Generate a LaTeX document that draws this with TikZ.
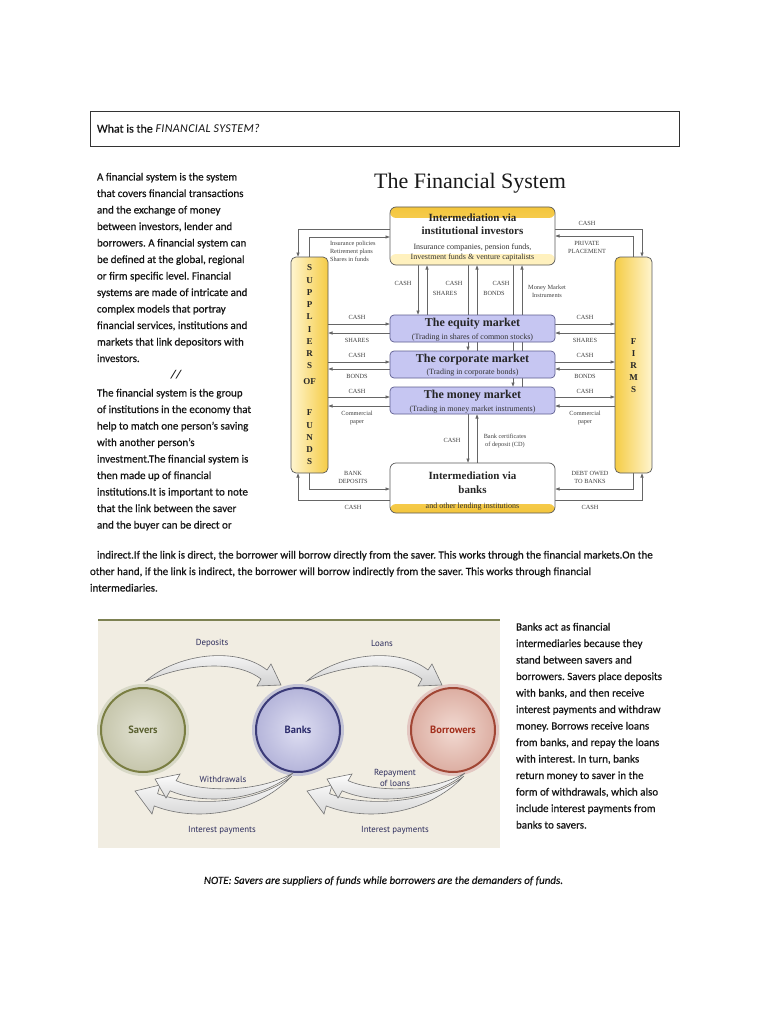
\documentclass[tikz,border=0pt]{standalone}
\usepackage{fontspec}
\setmainfont{Carlito}
\newfontfamily\bodyfont[FakeBold=0.5]{Carlito}
\newfontfamily\serifd{Liberation Serif}
\newfontfamily\sansd{PT Sans}
\newfontfamily\handfont[LetterSpace=3]{Carlito}
\usetikzlibrary{arrows.meta}
\pgfdeclarelayer{back}
\pgfdeclarelayer{lines}
\pgfsetlayers{back,lines,main}
\frenchspacing
\definecolor{ink}{HTML}{141414}
\definecolor{bandY}{HTML}{F4C63C}
\definecolor{bandL}{HTML}{FFF1BE}
\definecolor{mktfill}{HTML}{C6C6F2}
\definecolor{mktborder}{HTML}{5E5E90}
\definecolor{pilDark}{HTML}{F5CC45}
\definecolor{pilLight}{HTML}{FFF5CF}
\definecolor{bgBeige}{HTML}{F1EDE2}
\definecolor{ruleOl}{HTML}{7D8152}
\definecolor{savIn}{HTML}{E2E2D2}
\definecolor{savOut}{HTML}{C6C6AC}
\definecolor{savLine}{HTML}{7A7E42}
\definecolor{savText}{HTML}{5A6030}
\definecolor{bankIn}{HTML}{DEDEF2}
\definecolor{bankOut}{HTML}{B5B5DA}
\definecolor{bankLine}{HTML}{3B3B78}
\definecolor{bankText}{HTML}{2C2C6C}
\definecolor{borIn}{HTML}{F2DAD2}
\definecolor{borOut}{HTML}{DCAEA2}
\definecolor{borLine}{HTML}{A14634}
\definecolor{borText}{HTML}{A3301E}
\definecolor{lblBlue}{HTML}{2B2B5B}
\begin{document}
\begin{tikzpicture}[x=1pt,y=-1pt,
  every node/.style={inner sep=0pt,outer sep=0pt},
  body/.style={anchor=base west,font=\bodyfont\fontsize{11}{12}\selectfont,text=ink},
  lbl/.style={font=\serifd\fontsize{6.3}{8}\selectfont,text=black!75,align=center},
  conn/.style={draw=black!60,line width=0.6pt},
  arr/.style={conn,-{Latex[length=4.5pt,width=3.5pt]}},
  mkt/.style={draw=mktborder,fill=mktfill,rounded corners=4pt,minimum width=165pt,minimum height=27pt,line width=0.7pt},
  pillar/.style={draw=black!65,rounded corners=5pt,minimum width=37pt,minimum height=216pt,line width=0.7pt},
  btitle/.style={font=\serifd\bfseries\fontsize{11}{13}\selectfont,text=black!85},
  bsub/.style={font=\serifd\fontsize{8}{9.5}\selectfont,text=black!80},
  pletter/.style={font=\serifd\bfseries\fontsize{9}{10}\selectfont,text=black!85},
  fat/.style={draw=black!55,line width=0.6pt,top color=white,bottom color=black!18},
  flbl/.style={font=\sansd\fontsize{8.8}{10.5}\selectfont,text=lblBlue,align=center},
  circ/.style={circle,minimum size=84pt,line width=2pt,font=\sansd\bfseries\fontsize{10.5}{12}\selectfont}
]
\useasboundingbox (0,0) rectangle (768,1024);
\begin{pgfonlayer}{back}
\fill[white] (0,0) rectangle (768,1024);
\fill[bgBeige] (98,620) rectangle (500,848);
\draw[ruleOl,line width=1.2pt] (98,620) -- (500,620);
\end{pgfonlayer}

% ---------- title box ----------
\node[draw=black!80,line width=0.8pt,minimum width=589pt,minimum height=35pt] (tbox) at (384.5,128.5) {};
\node[anchor=west,font=\bodyfont\fontsize{12}{14}\selectfont,text=ink] (ttext) at (97,128.5) {What is the {\handfont\itshape FINANCIAL SYSTEM?}};

% ---------- left text ----------
\foreach \t [count=\i] in {{A financial system is the system},{that covers financial transactions},{and the exchange of money},{between investors, lender and},{borrowers. A financial system can},{be defined at the global, regional},{or firm specific level. Financial},{systems are made of intricate and},{complex models that portray},{financial services, institutions and},{markets that link depositors with},{investors.}}
  {\node[body] (pa\i) at (97,{180.5+(\i-1)*16.5}) {\t};}
\node[font=\fontsize{12}{14}\selectfont\bfseries\itshape,text=ink] (slash) at (176,375) {//};
\foreach \t [count=\i] in {{The financial system is the group},{of institutions in the economy that},{help to match one person’s saving},{with another person’s},{investment.The financial system is},{then made up of financial},{institutions.It is important to note},{that the link between the saver},{and the buyer can be direct or}}
  {\node[body] (pb\i) at (97,{396.5+(\i-1)*16.5}) {\t};}
\node[body] (pc1) at (97,558.5) {indirect.If the link is direct, the borrower will borrow directly from the saver. This works through the financial markets.On the};
\node[body] (pc2) at (90,575) {other hand, if the link is indirect, the borrower will borrow indirectly from the saver. This works through financial};
\node[body] (pc3) at (90,591.5) {intermediaries.};

% ---------- right text ----------
\foreach \t [count=\i] in {{Banks act as financial},{intermediaries because they},{stand between savers and},{borrowers. Savers place deposits},{with banks, and then receive},{interest payments and withdraw},{money. Borrows receive loans},{from banks, and repay the loans},{with interest. In turn, banks},{return money to saver in the},{form of withdrawals, which also},{include interest payments from},{banks to savers.}}
  {\node[body] (pd\i) at (516,{630.5+(\i-1)*16.5}) {\t};}
\node[font=\bodyfont\fontsize{11}{12}\selectfont\itshape,text=ink] (note) at (383.5,881) {NOTE: Savers are suppliers of funds while borrowers are the demanders of funds.};

% ---------- financial system diagram ----------
\node[font=\serifd\fontsize{22}{26}\selectfont,text=black!90] (fstitle) at (470,183) {The Financial System};

\node[draw=black!65,line width=0.7pt,fill=white,rounded corners=6pt,minimum width=165pt,minimum height=58pt,
  path picture={
   \shade[top color=bandY,bottom color=bandY!55!white] (path picture bounding box.north west) rectangle ([yshift=-11pt]path picture bounding box.north east);
   \fill[bandL] ([yshift=11pt]path picture bounding box.south west) rectangle (path picture bounding box.south east);
  }] (inst) at (472.5,236) {};
\node[btitle] (instT1) at (472.5,218) {Intermediation via};
\node[btitle] (instT2) at (472.5,231) {institutional investors};
\node[bsub] (instS1) at (472.5,248) {Insurance companies, pension funds,};
\node[bsub] (instS2) at (472.5,258) {Investment funds \& venture capitalists};

\node[mkt] (eq) at (472.5,328.5) {};
\node[btitle,font=\serifd\bfseries\fontsize{12}{14}\selectfont] (eqT) at (472.5,324) {The equity market};
\node[bsub] (eqS) at (472.5,338) {(Trading in shares of common stocks)};
\node[mkt] (corp) at (472.5,364.5) {};
\node[btitle,font=\serifd\bfseries\fontsize{12}{14}\selectfont] (corpT) at (472.5,359.5) {The corporate market};
\node[bsub] (corpS) at (472.5,373) {(Trading in corporate bonds)};
\node[mkt] (money) at (472.5,400.5) {};
\node[btitle,font=\serifd\bfseries\fontsize{12}{14}\selectfont] (moneyT) at (472.5,395.5) {The money market};
\node[bsub] (moneyS) at (472.5,409.5) {(Trading in money market instruments)};

\node[draw=black!65,line width=0.7pt,fill=white,rounded corners=6pt,minimum width=165pt,minimum height=50pt,
  path picture={
   \shade[top color=bandY!60!white,bottom color=bandY] ([yshift=9pt]path picture bounding box.south west) rectangle (path picture bounding box.south east);
  }] (banks) at (472.5,488) {};
\node[btitle] (banksT1) at (472.5,476) {Intermediation via};
\node[btitle] (banksT2) at (472.5,489.5) {banks};
\node[bsub] (banksS) at (472.5,507) {and other lending institutions};

\node[pillar,left color=pilLight,right color=pilDark] (sup) at (309.5,365) {};
\node[pillar,left color=pilDark,right color=pilLight] (firms) at (633.5,365) {};
\foreach \l/\yy [count=\i] in {S/268,U/280.25,P/292.5,P/304.75,L/317,I/329.25,E/341.5,R/353.75,S/366,OF/382,F/413,U/425.25,N/437.5,D/449.75,S/462}
  {\node[pletter] (sl\i) at (309.5,\yy) {\l};}
\foreach \l/\yy [count=\i] in {F/342,I/354,R/366,M/378,S/390}
  {\node[pletter] (fl\i) at (633.5,\yy) {\l};}

% connector labels
\node[lbl,align=left,anchor=north west] (insl) at (330,241) {Insurance policies\\Retirement plans\\Shares in funds};
\node[lbl] (rcash0) at (587,223) {CASH};
\node[lbl] (ppl) at (587,247) {PRIVATE\\PLACEMENT};
\node[lbl] (vc1) at (403,283) {CASH};
\node[lbl] (vc2) at (454,283) {CASH};
\node[lbl] (vs2) at (445,293) {SHARES};
\node[lbl] (vc3) at (501,283) {CASH};
\node[lbl] (vb3) at (494,293) {BONDS};
\node[lbl] (mmi) at (547,291) {Money Market\\Instruments};
\node[lbl] (lc1) at (357,317) {CASH};
\node[lbl] (ls1) at (357,340) {SHARES};
\node[lbl] (lc2) at (357,355) {CASH};
\node[lbl] (lb2) at (357,376) {BONDS};
\node[lbl] (lc3) at (357,391) {CASH};
\node[lbl] (lp3) at (357,417.5) {Commercial\\paper};
\node[lbl] (rc1) at (585,317) {CASH};
\node[lbl] (rs1) at (585,340) {SHARES};
\node[lbl] (rc2) at (585,355) {CASH};
\node[lbl] (rb2) at (585,376) {BONDS};
\node[lbl] (rc3) at (585,391) {CASH};
\node[lbl] (rp3) at (585,417.5) {Commercial\\paper};
\node[lbl] (bc) at (452,440) {CASH};
\node[lbl] (bcd) at (505,441) {Bank certificates\\of deposit (CD)};
\node[lbl] (bdep) at (353,477) {BANK\\DEPOSITS};
\node[lbl] (bcl) at (353,507) {CASH};
\node[lbl] (debt) at (590,477) {DEBT OWED\\TO BANKS};
\node[lbl] (bcr) at (590,507) {CASH};

\begin{pgfonlayer}{lines}
\draw[arr] (inst.west |- 0,229) -| (sup.north -| 298,0);
\draw[arr] (sup.north) |- (inst.west |- 0,237);
\draw[arr] (inst.east |- 0,229) -| (firms.north -| 642,0);
\draw[arr] (firms.north) |- (inst.east |- 0,236);
\draw[arr] (inst.south -| 418,0) -- (eq.north -| 418,0);
\draw[arr] (eq.north -| 427,0) -- (inst.south -| 427,0);
\draw[arr] (inst.south -| 468,0) -- (corp.north -| 468,0);
\draw[arr] (corp.north -| 477,0) -- (inst.south -| 477,0);
\draw[arr] (inst.south -| 513,0) -- (money.north -| 513,0);
\draw[arr] (money.north -| 522,0) -- (inst.south -| 522,0);
\draw[arr] (money.south -| 468,0) -- (banks.north -| 468,0);
\draw[arr] (banks.north -| 477,0) -- (money.south -| 477,0);
\foreach \m/\ya/\yb in {eq/324/333,corp/362/369,money/397/406} {
  \draw[arr] (sup.east |- 0,\ya) -- (\m.west |- 0,\ya);
  \draw[arr] (\m.west |- 0,\yb) -- (sup.east |- 0,\yb);
  \draw[arr] (\m.east |- 0,\ya) -- (firms.west |- 0,\ya);
  \draw[arr] (firms.west |- 0,\yb) -- (\m.east |- 0,\yb);
}
\draw[arr] (sup.south) |- (banks.west |- 0,489);
\draw[arr] (banks.west |- 0,500) -| (sup.south -| 298,0);
\draw[arr] (firms.south) |- (banks.east |- 0,489);
\draw[arr] (banks.east |- 0,500) -| (firms.south -| 642,0);
\end{pgfonlayer}

% ---------- savers / banks / borrowers ----------
\node[circ,draw=savLine,inner color=savIn,outer color=savOut,text=savText] (savers) at (143,730) {Savers};
\node[circ,draw=bankLine,inner color=bankIn,outer color=bankOut,text=bankText] (bank) at (298,730) {Banks};
\node[circ,draw=borLine,inner color=borIn,outer color=borOut,text=borText] (borrow) at (453,730) {Borrowers};
\begin{pgfonlayer}{lines}
\draw[savLine!30,line width=4pt] (savers.center) circle (44pt);
\draw[bankLine!30,line width=4pt] (bank.center) circle (44pt);
\draw[borLine!30,line width=4pt] (borrow.center) circle (44pt);
\end{pgfonlayer}

\foreach \dx in {0,161} {
\begin{scope}[xshift=\dx pt]
\path[fat] (146,681) .. controls (175,655) and (235,645) .. (267,670) -- (271,664) -- (281,685) -- (257,686) -- (261,679) .. controls (235,659) and (185,664) .. (146,681) -- cycle;
\end{scope}
}
\foreach \dx in {0,172} {
\begin{scope}[xshift=\dx pt]
\path[fat] (292,776) .. controls (255,806) and (190,806) .. (157.6,793.7) -- (160,785) -- (135,791) -- (152,814) -- (154.2,805.9) .. controls (195,822) and (255,815) .. (292,776) -- cycle;
\path[fat] (293,773) .. controls (260,792) and (205,793) .. (176.1,780.7) -- (180,774) -- (155,779) -- (166,798) -- (170.2,790.8) .. controls (205,806) and (262,800) .. (293,773) -- cycle;
\end{scope}
}
\node[flbl] (ldep) at (212,643) {Deposits};
\node[flbl] (lloan) at (382,643) {Loans};
\node[flbl] (lwd) at (223,779) {Withdrawals};
\node[flbl] (lrep) at (395,778) {Repayment\\of loans};
\node[flbl] (lint1) at (222,830) {Interest payments};
\node[flbl] (lint2) at (395,830) {Interest payments};
\end{tikzpicture}
\end{document}
